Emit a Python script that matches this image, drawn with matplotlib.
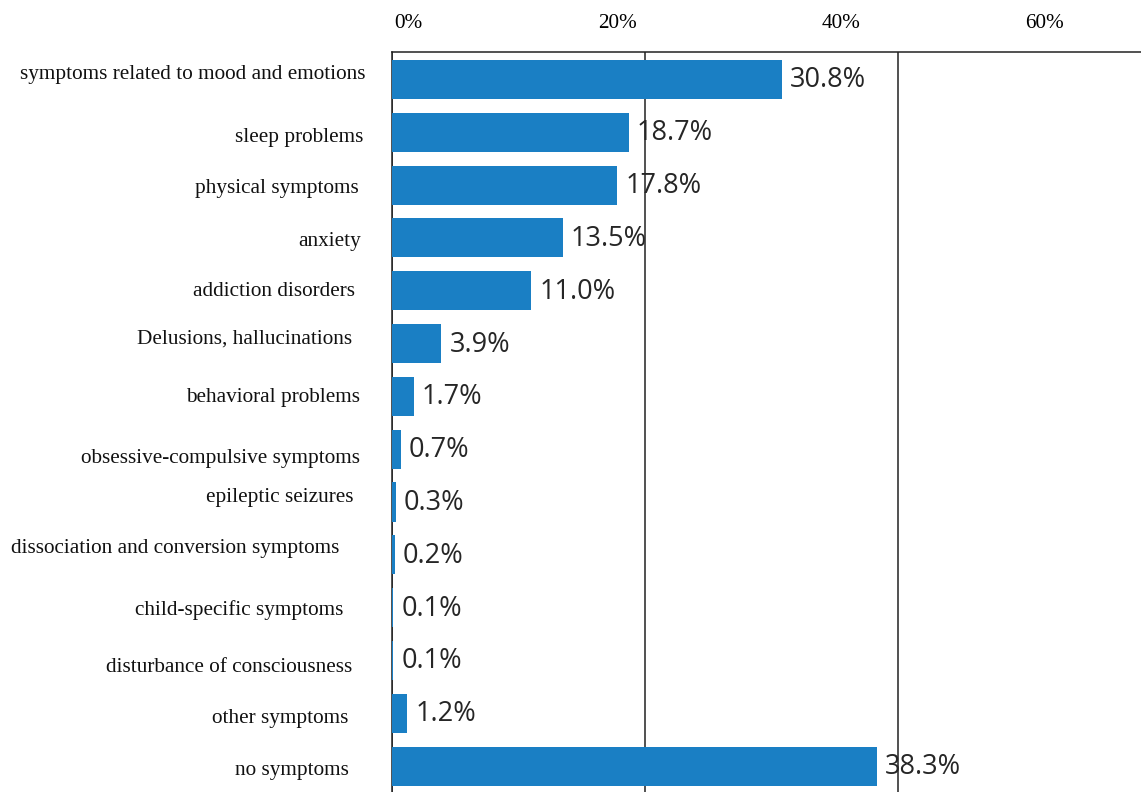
import matplotlib as mpl
import matplotlib.pyplot as plt
import numpy as np

# data
categories = ['symptoms related to mood and emotions', 'sleep problems', 'physical symptoms',
              'anxiety', 'addiction disorders', 'Delusions, hallucinations', 'behavioral problems',
              'obsessive-compulsive symptoms', 'epileptic seizures',
              'dissociation and conversion symptoms', 'child-specific symptoms',
              'disturbance of consciousness', 'other symptoms', 'no symptoms']
values = [30.8, 18.7, 17.8, 13.5, 11.0, 3.9, 1.7, 0.7, 0.3, 0.2, 0.1, 0.1, 1.2, 38.3]
tick_labels = ['0%', '20%', '40%', '60%']

# label nudges (pixels) - category labels are not aligned evenly in the original
label_dx = [26, 29, 33, 31, 37, 40, 32, 32, 38, 53, 49, 40, 44, 43]
label_dy = [0, 10, 8, 8, 5, 0, 6, 14, 0, -2, 7, 12, 10, 9]
# where the top labels sit (they are shifted from the grid lines)
tick_label_pos = [1.26, 17.85, 35.47, 51.58]

bar_color = '#1a7fc4'
serif = 'Liberation Serif'
x_max = 59.2

fig = plt.figure(figsize=(11.41, 7.92), dpi=100)
ax = fig.add_axes([392 / 1141, 0, 749 / 1141, 740 / 792])

y = np.arange(len(categories))
# bars drawn over the grid and the left spine
ax.barh(y, values, height=0.74, color=bar_color, zorder=3)

# grid lines at 20 / 40
ax.set_xticks([0, 20, 40, 60])
ax.tick_params(axis='x', which='both', length=0, labeltop=False, labelbottom=False)
ax.grid(axis='x', color='#222222', linewidth=1.1, zorder=1)
ax.set_yticks([])

# limits after the ticks (set_xticks widens the view)
ax.set_xlim(0, x_max)
ax.set_ylim(13.49, -0.52)

for s in ['right', 'bottom']:
    ax.spines[s].set_visible(False)
for s in ['top', 'left']:
    ax.spines[s].set_linewidth(1.1)
    ax.spines[s].set_color('#222222')

# top labels
ax2 = ax.twiny()
ax2.set_xticks(tick_label_pos, tick_labels, family=serif, fontsize=15.3)
ax2.set_xlim(0, x_max)
ax2.tick_params(axis='x', length=0, pad=14)
for s in ax2.spines.values():
    s.set_visible(False)

# category labels
for i, lab in enumerate(categories):
    ax.annotate(lab, xy=(0, i), xycoords=('axes fraction', 'data'),
                xytext=(-label_dx[i], -label_dy[i]), textcoords='offset pixels',
                ha='right', va='baseline', family=serif, fontsize=15.3, color='#111111',
                annotation_clip=False)

# values
for i, v in enumerate(values):
    ax.annotate(f'{v:.1f}%', xy=(v, i), xytext=(8, -1), textcoords='offset pixels',
                ha='left', va='center', family='Open Sans', fontsize=19.5,
                color='#262626', zorder=5)

plt.savefig('out.png', dpi=100)
